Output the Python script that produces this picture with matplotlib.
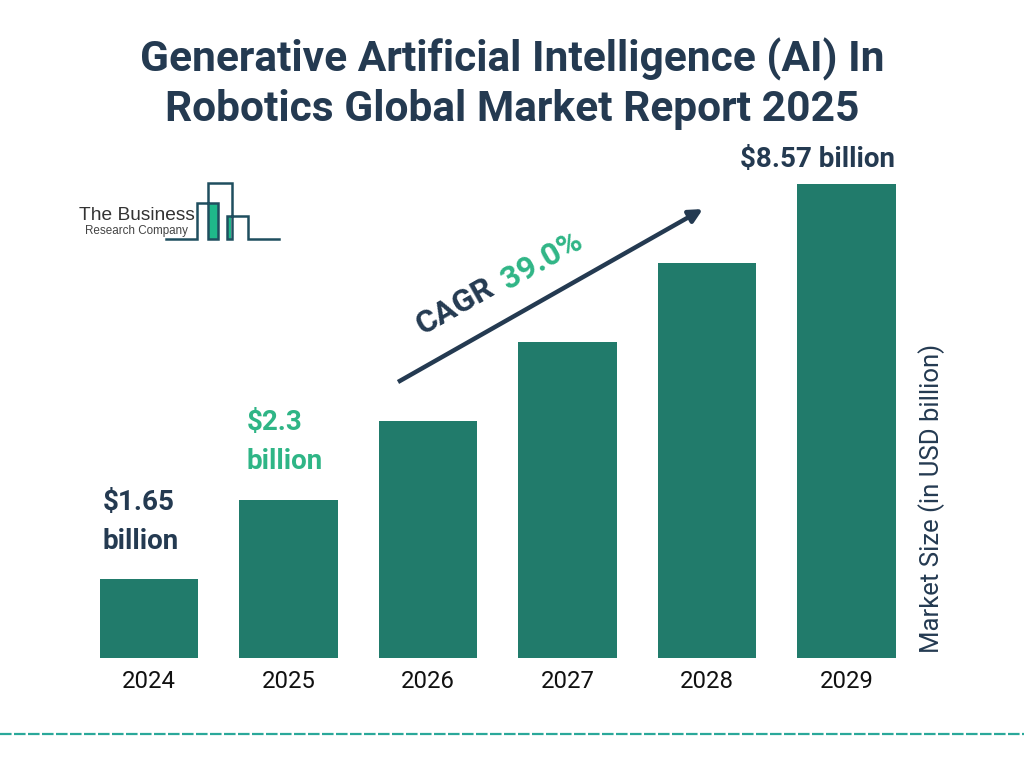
import matplotlib
matplotlib.use("Agg")
import matplotlib.pyplot as plt
from matplotlib.patches import FancyArrowPatch, Rectangle

plt.rcParams['font.family'] = ['Roboto', 'DejaVu Sans']

# data
years = ["2024", "2025", "2026", "2027", "2028", "2029"]
# bar heights as drawn in the picture (not to scale with the labels)
bar_heights = [79, 158, 237, 316, 395, 474]
value_labels = ["$1.65\nbillion", "$2.3\nbillion", "$8.57 billion"]
title = "Generative Artificial Intelligence (AI) In\nRobotics Global Market Report 2025"

DARK = "#243a51"
BAR = "#217b6b"
GREEN = "#2fb586"
W, H = 1024, 768

fig = plt.figure(figsize=(W / 100, H / 100), dpi=100, facecolor="white")

# bars
ax = fig.add_axes([79.25 / W, 1 - 658 / H, 837 / W, 500 / H])
ax.bar(range(len(years)), bar_heights, width=0.708, color=BAR)
ax.set_xlim(-0.5, 5.5)
ax.set_ylim(0, 500)
ax.set_xticks(range(len(years)))
ax.set_xticklabels(years, fontsize=17.2, color="#111111")
ax.set_yticks([])
ax.tick_params(axis="x", length=0, pad=9)
for s in ax.spines.values():
    s.set_visible(False)
ax.patch.set_alpha(0)

# overlay in pixel coords for text, arrow and logo
ov = fig.add_axes([0, 0, 1, 1])
ov.set_xlim(0, W)
ov.set_ylim(H, 0)
ov.axis("off")
ov.patch.set_alpha(0)

ov.text(512, 84, title, ha="center", va="center", fontsize=30.6, fontweight="bold",
        color=DARK, linespacing=1.24)

ov.text(103, 522, value_labels[0], ha="left", va="center", fontsize=20, fontweight="bold",
        color=DARK, linespacing=1.55)
ov.text(247, 442, value_labels[1], ha="left", va="center", fontsize=20, fontweight="bold",
        color=GREEN, linespacing=1.55)
ov.text(818, 160, value_labels[2], ha="center", va="center", fontsize=20, fontweight="bold",
        color=DARK)

ov.text(932, 498, "Market Size (in USD billion)", rotation=90, ha="center", va="center",
        fontsize=18.5, color=DARK)

# CAGR arrow
ov.add_patch(FancyArrowPatch((398, 382), (703, 209), arrowstyle="-|>", mutation_scale=20,
                             lw=3.2, color=DARK, shrinkA=0, shrinkB=0, capstyle="butt"))
ov.text(455, 306, "CAGR", rotation=29.5, rotation_mode="anchor", ha="center", va="center",
        fontsize=23, fontweight="bold", color=DARK)
ov.text(542, 260, "39.0%", rotation=29.5, rotation_mode="anchor", ha="center", va="center",
        fontsize=23, fontweight="bold", color=GREEN)

# logo
ov.add_patch(Rectangle((209, 204), 9, 35, color="#1fb88a", lw=0))
ov.add_patch(Rectangle((227, 217), 4, 22, color="#1fb88a", lw=0))
logo_x = [166, 197, 197, 218, 218, 208, 208, 232, 232, 227, 227, 248, 248, 279]
logo_y = [239, 239, 203, 203, 239, 239, 183, 183, 239, 239, 216, 216, 239, 239]
ov.plot(logo_x, logo_y, color="#1f4e5f", lw=1.8, solid_joinstyle="miter")
ov.text(79, 216, "The Business", ha="left", va="center", fontsize=13.8,
        family="Liberation Sans", color="#333333")
ov.text(85, 231, "Research Company", ha="left", va="center", fontsize=8.4,
        family="Liberation Sans", color="#444444")

# dashed rule along the bottom
ov.plot([0, W], [734, 734], color="#2aa89a", lw=1.6, dashes=(5.2, 1.1))

fig.savefig("out.png", dpi=100)
